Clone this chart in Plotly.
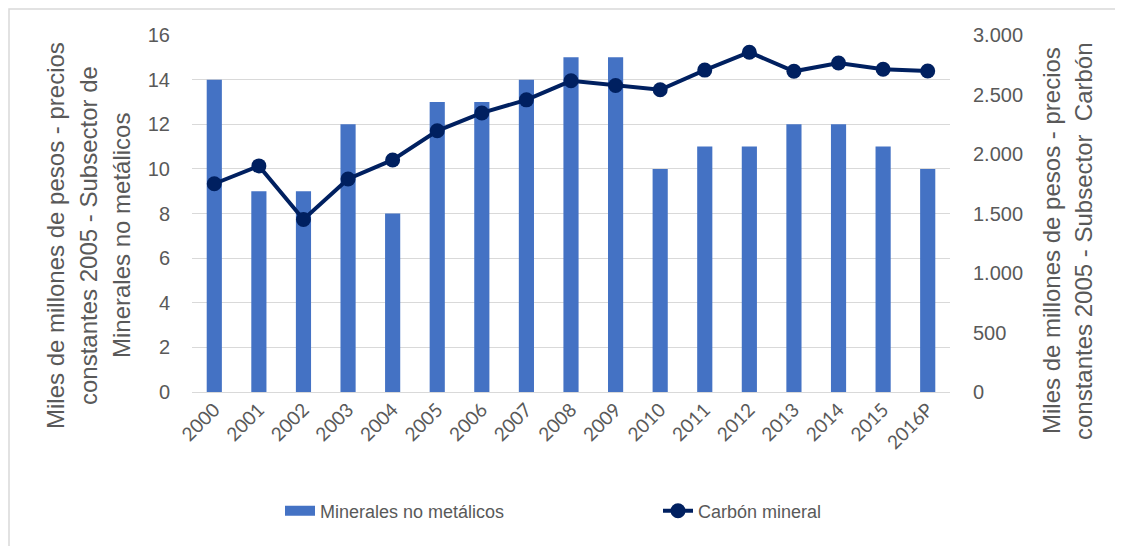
import plotly.graph_objects as go

years = ["2000", "2001", "2002", "2003", "2004", "2005", "2006", "2007", "2008",
         "2009", "2010", "2011", "2012", "2013", "2014", "2015", "2016P"]
minerales = [14, 9, 9, 12, 8, 13, 13, 14, 15, 15, 10, 11, 11, 12, 12, 11, 10]
carbon = [1750, 1900, 1450, 1790, 1950, 2195, 2345, 2455, 2615, 2575, 2540,
          2705, 2855, 2695, 2765, 2712, 2697]

left_title = ["Miles de millones de pesos - precios",
              "constantes 2005 - Subsector de",
              "Minerales no metálicos"]
right_title = ["Miles de millones de pesos - precios",
               "constantes 2005 - Subsector  Carbón"]

TXT = "#595959"
FONT = "Liberation Sans, Arial, sans-serif"
BAR = "#4472C4"
LINE = "#002060"

fig = go.Figure()
fig.add_trace(go.Bar(x=years, y=minerales, name="Minerales no metálicos",
                     marker=dict(color=BAR, line=dict(width=0)), yaxis="y",
                     showlegend=False, legendgroup="min"))
# legend-only swatch drawn as a wide rectangle, like the original
fig.add_trace(go.Scatter(x=[None], y=[None], name="Minerales no metálicos", mode="lines",
                         line=dict(color=BAR, width=12), yaxis="y", legendgroup="min"))
fig.add_trace(go.Scatter(x=years, y=carbon, name="Carbón mineral", mode="lines+markers",
                         line=dict(color=LINE, width=4),
                         marker=dict(color=LINE, size=15), yaxis="y2"))

# page body adds an 8px offset; compensate
OFF = 8
L, T, B = 184, 27, 154
W, H = 1123 - OFF, 546 - OFF
pw, ph = 758, 357
R = W - L - pw

def px(x_page):
    return (x_page - OFF - L) / pw

def py(y_page):
    return (OFF + T + ph - y_page) / ph

annotations = []
for t, xc in zip(left_title, [55, 88, 121]):
    annotations.append(dict(text=t, x=px(xc), y=py(236), xref="paper", yref="paper",
                            textangle=-90, showarrow=False, xanchor="center", yanchor="middle",
                            font=dict(size=24, color=TXT, family=FONT)))
for t, xc in zip(right_title, [1052, 1084]):
    annotations.append(dict(text=t, x=px(xc), y=py(241), xref="paper", yref="paper",
                            textangle=-90, showarrow=False, xanchor="center", yanchor="middle",
                            font=dict(size=24, color=TXT, family=FONT)))

fig.update_layout(
    width=W, height=H,
    margin=dict(l=L, r=R, t=T, b=B, autoexpand=False),
    paper_bgcolor="white", plot_bgcolor="white",
    separators=",.",
    bargap=0.66,
    font=dict(family=FONT, color=TXT, size=18),
    xaxis=dict(tickangle=-45, tickfont=dict(family="Lato, Open Sans, sans-serif", size=19, color=TXT),
               range=[-0.5, len(years) - 0.5], ticklabelstandoff=2,
               showgrid=False, showline=False, ticks="", zeroline=False, automargin=False),
    yaxis=dict(range=[0, 16], dtick=2, showgrid=True, gridcolor="#d9d9d9", gridwidth=1,
               zeroline=True, zerolinecolor="#d9d9d9", zerolinewidth=1,
               showline=False, ticks="", ticklabelstandoff=21, automargin=False,
               tickfont=dict(size=20, color=TXT, family=FONT)),
    yaxis2=dict(range=[0, 3000], dtick=500, overlaying="y", side="right",
                showgrid=False, zeroline=False, showline=False, ticks="",
                tickformat=",d", ticklabelstandoff=22, automargin=False,
                tickfont=dict(size=20, color=TXT, family=FONT)),
    legend=dict(orientation="h", x=px(280), xanchor="left", y=py(511), yanchor="middle",
                font=dict(size=18, color=TXT, family=FONT), entrywidth=333,
                bgcolor="rgba(0,0,0,0)"),
    showlegend=True,
    annotations=annotations,
    shapes=[dict(type="rect", xref="paper", yref="paper",
                 x0=px(9), x1=px(1123 + 20), y0=py(546 + 20), y1=py(9),
                 line=dict(color="#d9d9d9", width=1.5), fillcolor="rgba(0,0,0,0)", layer="below")],
)

fig.write_html("out.html")
